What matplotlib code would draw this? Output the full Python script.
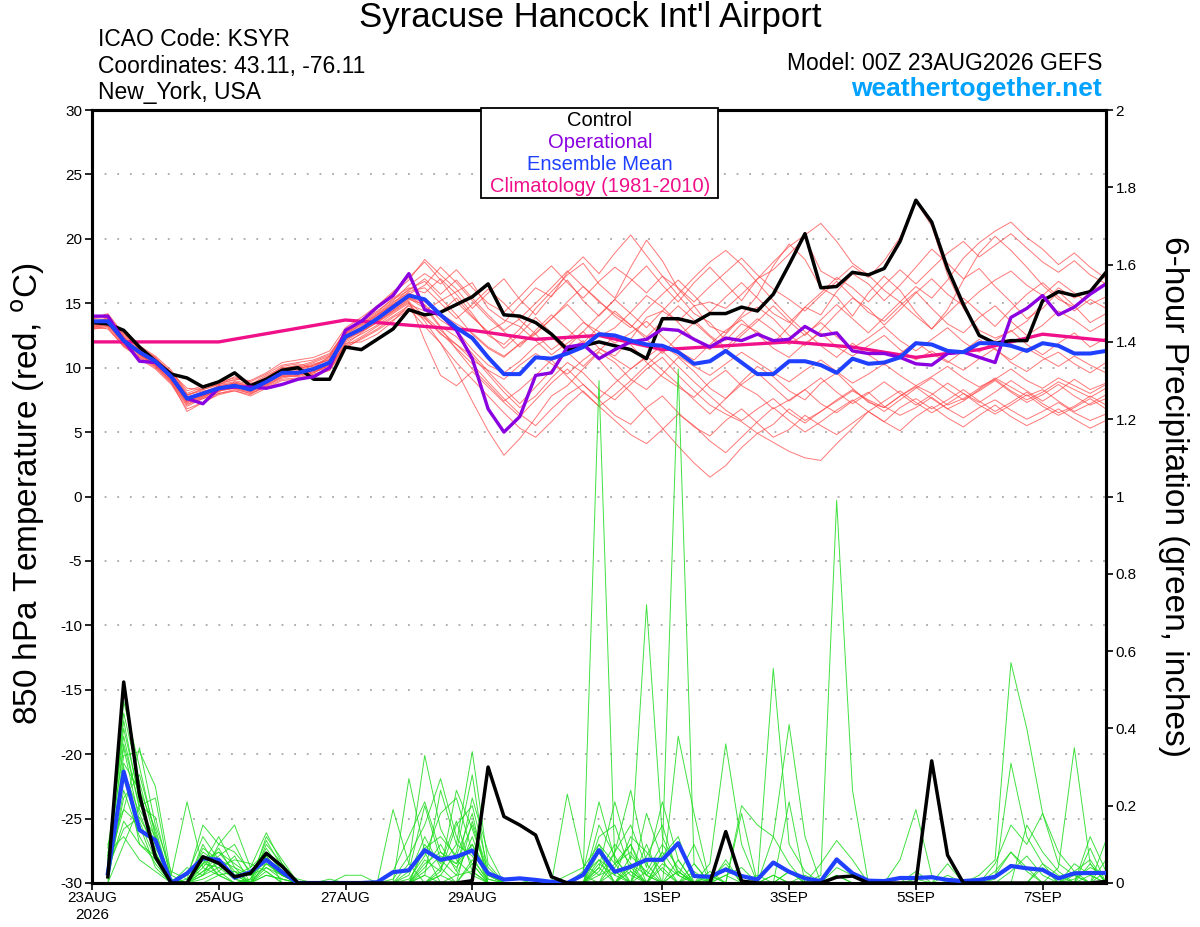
import numpy as np
import matplotlib
matplotlib.use("Agg")
import matplotlib.pyplot as plt
from matplotlib.patches import Rectangle
from matplotlib.ticker import FuncFormatter

plt.rcParams['font.family'] = ['Liberation Sans', 'DejaVu Sans']
plt.rcParams['axes.unicode_minus'] = False

# 6-hourly steps, 00Z 23AUG2026 -> 00Z 08SEP2026
steps = np.arange(65)
days = steps / 4.0

tick_days = [0, 2, 4, 6, 9, 11, 13, 15]
tick_labels = ['23AUG\n2026', '25AUG', '27AUG', '29AUG', '1SEP', '3SEP', '5SEP', '7SEP']

control_temp = [13.5, 13.4, 12.9, 11.6, 10.5, 9.5, 9.2, 8.5, 8.9, 9.6,
                8.6, 9.1, 9.8, 10.0, 9.1, 9.1, 11.6, 11.4, 12.2, 13.0,
                14.5, 14.1, 14.3, 14.9, 15.5, 16.5, 14.1, 14.0, 13.5, 12.6,
                11.4, 11.7, 12.0, 11.7, 11.4, 10.7, 13.8, 13.8, 13.5, 14.2,
                14.2, 14.7, 14.4, 15.7, 18.0, 20.4, 16.2, 16.3, 17.4, 17.2,
                17.7, 19.8, 23.0, 21.3, 17.7, 14.9, 12.5, 11.9, 12.1, 12.1,
                15.2, 15.9, 15.6, 15.9, 17.4]

oper_temp = [14.0, 14.0, 12.1, 10.5, 10.4, 9.3, 7.6, 7.2, 8.4, 8.5,
             8.5, 8.4, 8.7, 9.1, 9.3, 10.0, 12.9, 13.6, 14.7, 15.6,
             17.3, 14.5, 14.1, 12.9, 10.7, 6.8, 5.0, 6.2, 9.4, 9.6,
             11.6, 11.8, 10.7, 11.4, 12.0, 12.2, 13.0, 12.9, 12.2, 11.6,
             12.3, 12.1, 12.6, 12.1, 12.2, 13.2, 12.5, 12.7, 11.3, 11.1,
             11.1, 10.8, 10.3, 10.2, 11.1, 11.2, 10.8, 10.4, 13.9, 14.6,
             15.6, 14.1, 14.7, 15.7, 16.5]

mean_temp = [13.6, 13.6, 12.1, 11.2, 10.5, 9.3, 7.6, 8.0, 8.4, 8.6,
             8.3, 8.9, 9.6, 9.6, 9.9, 10.4, 12.4, 13.0, 13.8, 14.7,
             15.6, 15.3, 14.1, 13.1, 12.3, 10.8, 9.5, 9.5, 10.8, 10.7,
             11.1, 11.6, 12.6, 12.5, 12.1, 11.8, 11.7, 11.2, 10.3, 10.5,
             11.3, 10.4, 9.5, 9.5, 10.5, 10.5, 10.2, 9.6, 10.7, 10.3,
             10.4, 10.8, 11.9, 11.8, 11.3, 11.2, 11.9, 11.9, 11.7, 11.3,
             11.9, 11.7, 11.1, 11.1, 11.3]

clim_days = np.arange(17)
clim_temp = [12.0, 12.0, 12.0, 12.85, 13.7, 13.3, 12.9, 12.2, 12.5,
             11.4, 11.7, 12.0, 11.6, 10.8, 11.4, 12.6, 12.1]

member_temp = [
    [13.4, 13.9, 12.4, 11.0, 10.1, 9.0, 7.2, 7.6, 8.1, 8.9, 8.5, 9.2, 10.1, 10.3, 10.0, 10.9, 12.8, 13.5, 14.3, 15.4, 16.2,
     15.8, 16.9, 15.7, 14.2, 12.5, 11.8, 13.0, 14.6, 15.9, 17.2, 18.1, 16.5, 15.4, 17.8, 19.9, 18.3, 16.1, 14.8, 13.2, 12.7,
     14.1, 15.6, 17.9, 19.6, 18.4, 16.2, 15.5, 14.0, 15.8, 17.1, 16.0, 14.3, 13.0, 14.5, 16.8, 18.9, 20.2, 19.1, 17.8, 16.4,
     15.3, 14.7, 15.9, 16.6],
    [13.3, 13.2, 12.7, 11.4, 10.6, 9.6, 8.4, 8.3, 8.7, 9.3, 8.8, 9.0, 9.9, 10.2, 9.4, 9.8, 11.9, 12.0, 12.6, 13.6, 14.9,
     14.4, 15.2, 15.9, 16.6, 14.6, 13.7, 13.2, 12.1, 11.0, 11.9, 12.8, 11.5, 10.9, 12.2, 13.9, 14.4, 13.6, 14.8, 15.1, 14.6,
     15.7, 16.9, 17.6, 18.8, 20.1, 17.5, 16.8, 17.9, 17.0, 18.3, 20.1, 22.9, 21.0, 17.2, 14.6, 12.9, 12.3, 12.8, 13.6, 15.0,
     16.2, 15.4, 16.0, 17.2],
    [13.8, 14.2, 12.6, 11.7, 10.9, 9.8, 8.0, 8.5, 8.7, 9.1, 9.0, 9.6, 10.4, 10.6, 10.8, 11.3, 13.1, 13.9, 14.8, 15.9, 17.0,
     18.2, 16.8, 15.1, 13.9, 12.8, 13.5, 14.9, 16.2, 15.5, 17.4, 18.6, 17.3, 18.9, 20.3, 18.7, 17.1, 15.6, 14.2, 13.5, 12.1,
     13.4, 12.8, 11.9, 13.2, 14.7, 14.1, 15.9, 17.3, 16.5, 15.2, 16.4, 17.8, 19.2, 18.1, 16.9, 17.7, 16.3, 15.1, 13.8, 14.6,
     15.9, 14.8, 13.5, 14.2],
    [13.2, 13.4, 11.8, 10.7, 9.9, 8.7, 6.8, 7.3, 8.0, 8.2, 7.9, 8.6, 9.2, 9.4, 9.7, 10.0, 12.0, 12.6, 13.3, 14.2, 15.0,
     13.6, 11.9, 9.8, 7.4, 5.1, 3.2, 4.5, 6.1, 7.8, 8.6, 9.9, 11.2, 10.4, 9.1, 8.3, 9.5, 10.8, 9.7, 8.4, 7.6,
     8.9, 10.1, 9.3, 8.2, 7.5, 8.8, 9.6, 8.4, 7.3, 6.9, 7.8, 8.5, 7.6, 6.8, 7.4, 8.3, 9.1, 8.2, 7.5, 8.1,
     8.9, 8.3, 7.7, 8.4],
    [13.5, 13.7, 12.3, 11.5, 10.8, 9.5, 7.7, 7.9, 8.2, 8.4, 8.1, 8.8, 9.4, 9.3, 9.6, 10.3, 12.5, 13.2, 14.1, 14.9, 15.5,
     14.8, 13.2, 12.4, 11.1, 9.7, 8.4, 7.2, 8.5, 9.8, 11.3, 12.1, 10.6, 9.2, 8.1, 6.7, 5.3, 3.9, 2.6, 1.5, 2.4,
     3.8, 4.9, 5.6, 6.8, 5.9, 6.6, 7.4, 8.2, 7.5, 6.9, 7.8, 8.6, 8.0, 7.1, 7.6, 8.4, 9.2, 8.5, 7.8, 8.3,
     7.4, 6.6, 7.2, 7.9],
    [13.7, 13.5, 12.0, 11.3, 10.4, 9.1, 7.4, 7.9, 8.6, 8.8, 8.4, 9.1, 9.8, 9.7, 10.2, 10.8, 12.6, 13.3, 14.0, 15.0, 16.1,
     16.7, 15.4, 14.1, 12.6, 11.5, 10.8, 11.9, 12.7, 13.8, 14.9, 13.6, 12.4, 13.1, 14.3, 15.6, 14.7, 13.5, 12.2, 11.4, 12.6,
     13.9, 14.7, 13.8, 12.5, 11.7, 12.9, 14.2, 15.4, 14.6, 13.3, 14.5, 15.8, 16.9, 15.7, 14.8, 15.9, 16.8, 17.5, 16.4, 15.6,
     16.7, 15.8, 14.9, 15.5],
    [13.1, 13.3, 11.9, 11.0, 10.3, 9.2, 7.5, 8.1, 8.5, 8.7, 8.2, 8.7, 9.5, 9.8, 9.8, 10.1, 11.8, 12.7, 13.6, 14.4, 15.3,
     14.9, 13.7, 12.9, 11.4, 10.2, 9.6, 10.5, 11.7, 12.4, 11.2, 10.1, 11.3, 12.5, 11.8, 10.4, 9.3, 8.5, 7.7, 8.9, 9.8,
     8.6, 7.9, 6.8, 7.5, 8.3, 7.2, 6.5, 7.4, 8.1, 7.0, 6.3, 6.9, 7.7, 6.8, 6.1, 6.9, 7.5, 6.7, 6.0, 6.6,
     7.3, 6.5, 5.9, 6.4],
    [13.9, 14.1, 12.5, 11.6, 10.7, 9.4, 7.8, 8.4, 8.9, 9.0, 8.7, 9.4, 10.0, 10.1, 10.5, 11.0, 12.9, 13.7, 14.6, 15.8, 16.8,
     18.4, 17.2, 16.1, 14.6, 15.8, 16.9, 15.3, 14.1, 15.6, 16.8, 15.2, 14.0, 15.3, 16.7, 17.9, 16.4, 15.1, 16.6, 17.8, 16.5,
     15.2, 16.9, 18.2, 19.4, 20.3, 21.2, 19.8, 18.1, 17.2, 16.0, 15.1, 16.3, 15.4, 16.8, 18.5, 19.7, 20.6, 21.3, 20.1, 19.2,
     18.0, 18.9, 17.8, 16.9],
    [13.0, 13.1, 11.6, 10.8, 10.0, 8.8, 7.0, 7.6, 8.0, 8.3, 8.0, 8.5, 9.1, 9.2, 9.5, 9.9, 11.7, 12.4, 13.2, 14.0, 14.8,
     13.9, 12.6, 11.8, 10.9, 9.5, 8.1, 6.9, 7.8, 9.2, 10.4, 9.6, 8.3, 7.5, 8.7, 9.9, 10.8, 9.4, 8.2, 7.1, 6.4,
     5.8, 4.9, 4.2, 3.5, 3.0, 2.8, 4.1, 5.3, 6.6, 5.8, 6.9, 7.6, 6.8, 7.5, 8.3, 7.4, 6.6, 7.3, 8.1, 7.2,
     6.5, 7.0, 7.8, 7.1],
    [13.6, 13.8, 12.2, 11.3, 10.6, 9.6, 7.9, 8.2, 8.3, 8.5, 8.2, 9.0, 9.7, 9.5, 9.8, 10.5, 12.3, 12.9, 13.7, 14.6, 15.4,
     15.1, 14.2, 13.4, 12.7, 11.6, 10.9, 11.8, 12.6, 11.4, 12.3, 13.5, 12.8, 11.9, 12.7, 13.6, 12.4, 11.3, 10.6, 11.8, 12.9,
     13.7, 12.6, 11.5, 10.8, 11.9, 12.7, 11.6, 10.9, 11.7, 12.5, 11.4, 10.6, 11.3, 10.5, 9.8, 10.7, 11.5, 10.4, 9.7, 10.6,
     11.2, 10.3, 9.6, 10.4],
    [13.4, 13.5, 12.2, 11.4, 10.7, 9.7, 8.2, 8.6, 8.9, 9.2, 8.9, 9.5, 10.2, 10.4, 10.6, 11.1, 12.7, 13.4, 14.2, 15.2, 16.4,
     17.3, 16.5, 17.6, 16.2, 15.0, 14.3, 15.5, 16.8, 17.9, 16.6, 15.4, 16.7, 17.8, 16.9, 15.8, 17.1, 16.2, 15.1, 16.3, 17.4,
     18.5, 17.2, 16.1, 15.3, 14.4, 15.6, 16.7, 15.5, 14.3, 13.6, 14.8, 15.9, 14.6, 13.4, 12.7, 13.9, 14.8, 13.6, 12.5, 13.3,
     14.4, 13.7, 12.8, 13.5],
    [13.2, 13.0, 11.7, 10.9, 10.2, 9.0, 7.3, 7.7, 8.3, 8.6, 8.1, 8.7, 9.3, 9.5, 9.6, 10.2, 11.6, 12.2, 12.9, 13.7, 14.5,
     13.8, 12.7, 11.5, 10.3, 8.9, 7.6, 6.4, 5.5, 6.8, 7.9, 8.7, 7.5, 6.3, 5.6, 6.9, 7.8, 6.5, 5.4, 4.7, 5.9,
     6.8, 5.7, 4.6, 5.2, 6.3, 5.5, 4.8, 5.7, 6.6, 5.8, 5.1, 6.2, 7.0, 6.1, 5.4, 6.3, 7.1, 6.2, 5.5, 6.1,
     6.8, 6.0, 5.3, 5.9],
    [13.7, 13.6, 12.0, 11.1, 10.3, 9.2, 7.5, 7.8, 8.3, 8.6, 8.4, 9.0, 9.8, 9.9, 10.3, 10.6, 12.5, 13.1, 13.9, 14.9, 15.9,
     16.2, 15.0, 13.8, 14.9, 16.1, 15.0, 13.7, 12.6, 13.8, 15.1, 16.3, 15.2, 14.0, 13.1, 14.5, 15.7, 16.8, 15.6, 14.3, 15.5,
     16.6, 15.4, 14.2, 13.5, 14.7, 15.8, 17.0, 16.2, 15.1, 16.4, 17.6, 16.5, 17.7, 18.9, 19.8, 18.6, 19.5, 20.4, 19.3, 18.2,
     17.4, 18.3, 17.2, 16.5],
    [13.5, 13.4, 11.9, 11.0, 10.2, 8.9, 7.1, 7.7, 8.2, 8.4, 8.0, 8.6, 9.3, 9.4, 9.7, 10.2, 12.1, 12.8, 13.5, 14.3, 15.1,
     14.0, 12.9, 11.8, 10.6, 9.8, 9.1, 10.2, 11.1, 10.3, 9.5, 10.6, 11.5, 10.7, 9.9, 10.8, 11.7, 10.9, 10.1, 9.4, 10.3,
     11.2, 10.4, 9.6, 8.9, 9.8, 10.6, 9.7, 8.8, 9.5, 10.3, 9.4, 8.6, 9.3, 10.1, 9.2, 8.5, 9.1, 9.9, 9.0, 8.4,
     9.2, 8.6, 8.0, 8.7],
    [13.3, 13.5, 12.0, 11.2, 10.4, 9.2, 7.6, 8.0, 8.4, 8.7, 8.3, 8.8, 9.4, 9.6, 9.9, 10.4, 12.2, 12.9, 13.6, 14.5, 15.4,
     14.6, 13.1, 11.4, 9.9, 8.7, 7.4, 8.3, 9.4, 10.6, 9.3, 8.1, 7.0, 7.9, 9.0, 10.2, 11.3, 10.1, 8.9, 7.8, 6.7,
     5.9, 6.8, 7.6, 6.5, 5.7, 6.6, 7.5, 8.3, 7.4, 6.6, 7.5, 8.4, 9.2, 8.3, 7.5, 8.2, 9.0, 8.1, 7.3, 7.9,
     8.7, 7.8, 7.1, 7.6],
    [13.8, 13.9, 12.4, 11.6, 10.8, 9.6, 7.9, 8.3, 8.7, 8.9, 8.6, 9.3, 9.9, 10.0, 10.4, 10.9, 12.7, 13.6, 14.4, 15.3, 16.0,
     16.9, 15.7, 16.8, 15.4, 14.1, 12.9, 13.8, 15.0, 16.2, 17.5, 16.3, 15.1, 14.2, 13.3, 12.4, 13.6, 14.8, 13.7, 12.5, 11.6,
     12.7, 13.8, 12.9, 11.8, 12.6, 13.5, 12.4, 11.5, 12.3, 13.2, 12.1, 11.3, 12.2, 13.1, 12.0, 11.2, 12.1, 12.9, 11.8, 11.0,
     11.9, 12.7, 11.6, 12.3],
    [13.0, 13.2, 11.7, 10.8, 10.1, 8.9, 6.6, 7.3, 7.9, 8.2, 7.8, 8.4, 9.0, 9.1, 9.4, 9.8, 11.5, 12.3, 13.0, 13.9, 14.6,
     13.2, 11.9, 10.4, 9.1, 7.8, 6.5, 5.3, 4.6, 5.8, 7.1, 8.2, 7.0, 5.9, 4.8, 4.1, 5.2, 6.4, 5.5, 4.3, 3.4,
     4.6, 5.8, 6.9, 5.9, 5.0, 5.8, 6.7, 7.5, 6.6, 7.4, 8.2, 7.3, 6.5, 7.2, 8.0, 7.1, 6.4, 7.1, 7.9, 7.0,
     6.3, 6.9, 7.6, 6.8],
    [13.6, 13.3, 12.0, 11.4, 10.6, 9.4, 7.7, 8.1, 8.6, 8.8, 8.5, 9.2, 9.9, 10.0, 10.1, 10.7, 12.6, 13.4, 14.1, 15.1, 15.8,
     15.2, 14.3, 15.4, 14.0, 12.7, 11.5, 12.6, 13.9, 12.7, 11.6, 12.8, 14.1, 15.3, 14.2, 13.1, 14.4, 15.7, 17.0, 18.2, 19.1,
     18.0, 16.6, 15.2, 13.9, 12.8, 11.7, 10.8, 11.9, 11.0, 10.2, 11.1, 12.0, 11.1, 10.4, 11.3, 12.2, 11.4, 10.6, 11.5, 10.8,
     10.1, 10.9, 10.2, 9.6],
    [13.4, 13.8, 12.3, 11.3, 10.5, 9.3, 7.4, 7.8, 8.5, 8.7, 8.4, 9.1, 9.7, 9.9, 10.2, 10.6, 12.4, 13.1, 13.8, 14.8, 15.7,
     16.4, 17.8, 16.6, 15.2, 13.9, 12.8, 11.6, 12.9, 14.1, 13.0, 11.9, 13.2, 14.4, 13.3, 12.2, 11.1, 12.4, 13.5, 12.4, 11.3,
     12.5, 13.6, 14.8, 13.6, 12.5, 13.7, 14.9, 13.8, 12.7, 13.9, 15.1, 14.0, 13.0, 14.2, 15.4, 14.3, 13.2, 14.5, 15.7, 16.6,
     15.5, 14.4, 15.3, 14.6],
    [13.1, 13.4, 11.8, 11.1, 10.3, 9.1, 7.3, 7.8, 8.2, 8.5, 8.2, 8.8, 9.5, 9.6, 9.8, 10.3, 12.2, 12.8, 13.5, 14.4, 15.2,
     12.1, 9.4, 8.6, 9.7, 8.5, 7.3, 6.2, 7.5, 8.8, 9.9, 8.7, 7.6, 8.8, 9.9, 10.9, 9.8, 8.7, 7.5, 6.4, 7.6,
     8.7, 9.6, 8.5, 7.4, 8.3, 9.2, 8.1, 7.2, 8.0, 8.9, 8.0, 7.1, 7.9, 8.8, 8.0, 7.3, 8.1, 9.0, 8.2, 7.4,
     8.2, 9.1, 8.3, 8.8],
]

# precipitation (inches per 6 h), first value is at 06Z 23AUG
control_precip = [0.016, 0.52, 0.228, 0.068, 0.0, 0.0, 0.068, 0.051, 0.016, 0.025,
                  0.077, 0.043, 0.0, 0.0, 0.0, 0.0, 0.0, 0.0, 0.0, 0.0,
                  0.0, 0.0, 0.0, 0.006, 0.30, 0.172, 0.150, 0.124, 0.016, 0.0,
                  0.0, 0.0, 0.0, 0.0, 0.0, 0.0, 0.0, 0.0, 0.0, 0.133,
                  0.005, 0.0, 0.0, 0.0, 0.0, 0.0, 0.015, 0.018, 0.0, 0.0,
                  0.0, 0.0, 0.316, 0.072, 0.0, 0.0, 0.0, 0.0, 0.0, 0.0,
                  0.0, 0.0, 0.0, 0.004]

mean_precip = [0.025, 0.288, 0.137, 0.111, 0.0, 0.025, 0.064, 0.060, 0.014, 0.028,
               0.060, 0.028, 0.0, 0.0, 0.0, 0.0, 0.0, 0.002, 0.028, 0.033,
               0.085, 0.060, 0.068, 0.084, 0.025, 0.009, 0.012, 0.008, 0.003, 0.0,
               0.021, 0.085, 0.029, 0.042, 0.060, 0.060, 0.103, 0.018, 0.016, 0.035,
               0.018, 0.009, 0.053, 0.029, 0.012, 0.005, 0.061, 0.025, 0.006, 0.005,
               0.013, 0.013, 0.015, 0.008, 0.005, 0.008, 0.016, 0.044, 0.038, 0.034,
               0.012, 0.025, 0.026, 0.026]

member_precip = [
    [0.05, 0.47, 0.30, 0.12, 0.01, 0.0, 0.06, 0.08, 0.03, 0.02, 0.06, 0.02, 0.0, 0.0, 0.0, 0.0, 0.0, 0.0, 0.03, 0.12,
     0.21, 0.08, 0.05, 0.10, 0.03, 0.0, 0.0, 0.0, 0.0, 0.0, 0.02, 1.30, 0.05, 0.08, 0.02, 0.0, 0.03, 0.0, 0.01, 0.05,
     0.0, 0.0, 0.02, 0.0, 0.0, 0.0, 0.02, 0.0, 0.0, 0.0, 0.0, 0.01, 0.0, 0.0, 0.0, 0.0, 0.02, 0.08, 0.03, 0.0,
     0.0, 0.01, 0.04, 0.02],
    [0.02, 0.33, 0.34, 0.25, 0.02, 0.21, 0.04, 0.02, 0.0, 0.01, 0.11, 0.04, 0.0, 0.0, 0.01, 0.0, 0.0, 0.0, 0.0, 0.05,
     0.33, 0.14, 0.06, 0.02, 0.0, 0.0, 0.0, 0.01, 0.0, 0.0, 0.0, 0.04, 0.21, 0.06, 0.72, 0.12, 0.03, 0.0, 0.02, 0.0,
     0.0, 0.0, 0.0, 0.03, 0.0, 0.0, 0.0, 0.0, 0.0, 0.0, 0.0, 0.03, 0.0, 0.0, 0.0, 0.0, 0.01, 0.31, 0.12, 0.05,
     0.02, 0.0, 0.0, 0.06],
    [0.10, 0.19, 0.35, 0.15, 0.03, 0.01, 0.15, 0.10, 0.15, 0.04, 0.08, 0.03, 0.0, 0.0, 0.0, 0.0, 0.0, 0.0, 0.0, 0.0,
     0.02, 0.24, 0.10, 0.34, 0.05, 0.0, 0.0, 0.0, 0.0, 0.0, 0.0, 0.03, 0.10, 0.05, 0.02, 0.08, 1.33, 0.05, 0.0, 0.0,
     0.0, 0.0, 0.0, 0.0, 0.02, 0.0, 0.0, 0.0, 0.0, 0.0, 0.0, 0.0, 0.0, 0.05, 0.0, 0.0, 0.0, 0.0, 0.0, 0.0,
     0.0, 0.0, 0.12, 0.03],
    [0.0, 0.10, 0.20, 0.22, 0.0, 0.02, 0.12, 0.06, 0.02, 0.0, 0.10, 0.05, 0.0, 0.0, 0.0, 0.02, 0.02, 0.0, 0.19, 0.05,
     0.0, 0.02, 0.08, 0.28, 0.01, 0.0, 0.0, 0.0, 0.0, 0.23, 0.05, 0.02, 0.08, 0.24, 0.05, 0.0, 0.38, 0.18, 0.0, 0.02,
     0.0, 0.0, 0.0, 0.0, 0.0, 0.0, 0.0, 0.0, 0.0, 0.0, 0.0, 0.0, 0.0, 0.0, 0.0, 0.02, 0.06, 0.57, 0.40, 0.18,
     0.05, 0.02, 0.0, 0.0],
    [0.03, 0.27, 0.14, 0.10, 0.01, 0.0, 0.08, 0.05, 0.01, 0.03, 0.05, 0.02, 0.0, 0.0, 0.0, 0.0, 0.0, 0.0, 0.0, 0.01,
     0.07, 0.18, 0.22, 0.08, 0.02, 0.0, 0.0, 0.0, 0.0, 0.0, 0.0, 0.0, 0.05, 0.10, 0.02, 0.0, 0.03, 0.0, 0.05, 0.36,
     0.10, 0.0, 0.0, 0.0, 0.0, 0.0, 0.02, 0.0, 0.0, 0.0, 0.0, 0.0, 0.0, 0.0, 0.0, 0.0, 0.0, 0.03, 0.07, 0.02,
     0.0, 0.0, 0.0, 0.03],
    [0.07, 0.40, 0.22, 0.08, 0.0, 0.0, 0.05, 0.12, 0.04, 0.02, 0.04, 0.01, 0.0, 0.0, 0.0, 0.0, 0.0, 0.0, 0.01, 0.07,
     0.15, 0.27, 0.12, 0.05, 0.0, 0.0, 0.0, 0.0, 0.0, 0.0, 0.03, 0.21, 0.06, 0.02, 0.0, 0.04, 0.0, 0.0, 0.03, 0.0,
     0.20, 0.15, 0.12, 0.41, 0.12, 0.0, 0.0, 0.0, 0.0, 0.0, 0.0, 0.0, 0.0, 0.0, 0.0, 0.0, 0.0, 0.0, 0.0, 0.0,
     0.0, 0.05, 0.02, 0.0],
    [0.01, 0.22, 0.28, 0.13, 0.0, 0.0, 0.03, 0.07, 0.10, 0.02, 0.09, 0.03, 0.0, 0.0, 0.0, 0.0, 0.0, 0.0, 0.0, 0.0,
     0.10, 0.05, 0.16, 0.03, 0.0, 0.0, 0.0, 0.0, 0.0, 0.02, 0.04, 0.10, 0.02, 0.12, 0.08, 0.03, 0.0, 0.02, 0.0, 0.06,
     0.0, 0.0, 0.555, 0.10, 0.03, 0.0, 0.0, 0.0, 0.0, 0.0, 0.0, 0.0, 0.0, 0.0, 0.0, 0.0, 0.0, 0.0, 0.0, 0.0,
     0.04, 0.35, 0.05, 0.0],
    [0.04, 0.14, 0.17, 0.09, 0.02, 0.0, 0.10, 0.03, 0.0, 0.01, 0.07, 0.02, 0.0, 0.0, 0.0, 0.0, 0.0, 0.0, 0.0, 0.03,
     0.20, 0.06, 0.02, 0.12, 0.0, 0.0, 0.0, 0.0, 0.0, 0.0, 0.0, 0.06, 0.03, 0.0, 0.18, 0.06, 0.0, 0.0, 0.0, 0.02,
     0.04, 0.0, 0.0, 0.21, 0.0, 0.02, 0.99, 0.24, 0.0, 0.0, 0.0, 0.0, 0.0, 0.0, 0.0, 0.0, 0.0, 0.0, 0.0, 0.0,
     0.0, 0.0, 0.0, 0.0],
    [0.02, 0.30, 0.10, 0.06, 0.0, 0.0, 0.02, 0.04, 0.06, 0.05, 0.03, 0.0, 0.0, 0.0, 0.0, 0.0, 0.0, 0.0, 0.0, 0.0,
     0.04, 0.10, 0.03, 0.22, 0.08, 0.0, 0.0, 0.0, 0.0, 0.0, 0.0, 0.08, 0.0, 0.05, 0.0, 0.08, 0.02, 0.10, 0.0, 0.0,
     0.18, 0.0, 0.0, 0.0, 0.0, 0.05, 0.11, 0.06, 0.0, 0.0, 0.06, 0.19, 0.02, 0.0, 0.0, 0.0, 0.0, 0.0, 0.0, 0.0,
     0.0, 0.03, 0.0, 0.11],
    [0.06, 0.36, 0.20, 0.17, 0.01, 0.0, 0.07, 0.02, 0.0, 0.0, 0.12, 0.06, 0.0, 0.0, 0.0, 0.0, 0.0, 0.0, 0.0, 0.0,
     0.06, 0.03, 0.24, 0.14, 0.02, 0.0, 0.0, 0.0, 0.0, 0.0, 0.0, 0.0, 0.0, 0.03, 0.0, 0.05, 0.02, 0.0, 0.0, 0.0,
     0.0, 0.0, 0.0, 0.0, 0.0, 0.0, 0.0, 0.0, 0.0, 0.0, 0.0, 0.0, 0.0, 0.0, 0.0, 0.0, 0.05, 0.15, 0.10, 0.18,
     0.08, 0.03, 0.06, 0.0],
    [0.0, 0.24, 0.12, 0.05, 0.0, 0.0, 0.04, 0.09, 0.02, 0.0, 0.05, 0.03, 0.01, 0.0, 0.0, 0.0, 0.0, 0.0, 0.0, 0.02,
     0.12, 0.04, 0.0, 0.16, 0.03, 0.0, 0.0, 0.0, 0.0, 0.0, 0.02, 0.0, 0.08, 0.15, 0.04, 0.21, 0.06, 0.0, 0.0, 0.04,
     0.02, 0.0, 0.0, 0.0, 0.0, 0.0, 0.0, 0.0, 0.0, 0.0, 0.0, 0.0, 0.0, 0.0, 0.0, 0.0, 0.0, 0.0, 0.0, 0.0,
     0.0, 0.0, 0.0, 0.0],
    [0.08, 0.12, 0.06, 0.03, 0.0, 0.0, 0.01, 0.03, 0.07, 0.0, 0.02, 0.01, 0.0, 0.0, 0.0, 0.0, 0.0, 0.0, 0.0, 0.27,
     0.08, 0.0, 0.0, 0.05, 0.0, 0.0, 0.0, 0.0, 0.0, 0.0, 0.0, 0.12, 0.15, 0.03, 0.0, 0.0, 0.0, 0.0, 0.0, 0.0,
     0.0, 0.0, 0.12, 0.05, 0.0, 0.0, 0.0, 0.0, 0.0, 0.0, 0.0, 0.0, 0.0, 0.0, 0.0, 0.0, 0.0, 0.0, 0.0, 0.0,
     0.0, 0.0, 0.0, 0.0],
    [0.03, 0.16, 0.10, 0.07, 0.01, 0.0, 0.0, 0.02, 0.03, 0.0, 0.04, 0.02, 0.0, 0.0, 0.0, 0.0, 0.0, 0.0, 0.0, 0.0,
     0.02, 0.0, 0.02, 0.03, 0.0, 0.0, 0.0, 0.0, 0.0, 0.0, 0.0, 0.05, 0.02, 0.0, 0.03, 0.0, 0.0, 0.05, 0.0, 0.0,
     0.0, 0.0, 0.0, 0.0, 0.0, 0.0, 0.0, 0.0, 0.0, 0.0, 0.0, 0.0, 0.0, 0.0, 0.0, 0.0, 0.0, 0.0, 0.0, 0.05,
     0.0, 0.0, 0.0, 0.0],
    [0.05, 0.19, 0.15, 0.04, 0.0, 0.0, 0.05, 0.04, 0.01, 0.0, 0.03, 0.0, 0.0, 0.0, 0.0, 0.0, 0.0, 0.0, 0.0, 0.0,
     0.0, 0.0, 0.0, 0.0, 0.0, 0.0, 0.0, 0.0, 0.0, 0.0, 0.0, 0.0, 0.0, 0.0, 0.0, 0.0, 0.0, 0.0, 0.0, 0.0,
     0.0, 0.0, 0.0, 0.0, 0.0, 0.0, 0.0, 0.0, 0.0, 0.0, 0.0, 0.0, 0.0, 0.0, 0.0, 0.0, 0.0, 0.0, 0.0, 0.0,
     0.0, 0.0, 0.0, 0.0],
    [0.04, 0.44, 0.26, 0.11, 0.0, 0.0, 0.09, 0.06, 0.02, 0.04, 0.13, 0.05, 0.0, 0.0, 0.0, 0.0, 0.0, 0.0, 0.0, 0.0,
     0.0, 0.03, 0.15, 0.20, 0.04, 0.0, 0.0, 0.0, 0.0, 0.0, 0.0, 0.04, 0.0, 0.07, 0.03, 0.10, 0.04, 0.0, 0.02, 0.0,
     0.0, 0.0, 0.02, 0.0, 0.0, 0.0, 0.04, 0.02, 0.0, 0.0, 0.0, 0.0, 0.0, 0.0, 0.0, 0.0, 0.0, 0.0, 0.0, 0.0,
     0.0, 0.02, 0.0, 0.0],
    [0.09, 0.38, 0.19, 0.12, 0.0, 0.04, 0.02, 0.10, 0.08, 0.03, 0.06, 0.02, 0.0, 0.0, 0.0, 0.0, 0.0, 0.0, 0.0, 0.0,
     0.05, 0.08, 0.04, 0.10, 0.0, 0.0, 0.0, 0.0, 0.0, 0.0, 0.0, 0.10, 0.05, 0.0, 0.07, 0.15, 0.02, 0.0, 0.0, 0.0,
     0.0, 0.0, 0.0, 0.0, 0.0, 0.0, 0.0, 0.0, 0.0, 0.0, 0.0, 0.0, 0.0, 0.0, 0.0, 0.0, 0.0, 0.0, 0.15, 0.08,
     0.03, 0.0, 0.02, 0.0],
    [0.02, 0.31, 0.24, 0.14, 0.0, 0.0, 0.06, 0.02, 0.03, 0.0, 0.07, 0.0, 0.0, 0.0, 0.0, 0.0, 0.0, 0.0, 0.0, 0.0,
     0.09, 0.12, 0.07, 0.18, 0.0, 0.0, 0.0, 0.0, 0.0, 0.0, 0.0, 0.15, 0.07, 0.0, 0.10, 0.0, 0.06, 0.0, 0.0, 0.0,
     0.0, 0.02, 0.0, 0.0, 0.0, 0.0, 0.0, 0.0, 0.0, 0.0, 0.0, 0.0, 0.0, 0.02, 0.0, 0.0, 0.0, 0.0, 0.0, 0.0,
     0.0, 0.0, 0.09, 0.0],
    [0.06, 0.35, 0.16, 0.06, 0.0, 0.0, 0.03, 0.05, 0.01, 0.0, 0.02, 0.01, 0.0, 0.0, 0.0, 0.0, 0.0, 0.0, 0.0, 0.0,
     0.0, 0.04, 0.10, 0.07, 0.0, 0.0, 0.0, 0.0, 0.0, 0.0, 0.02, 0.06, 0.0, 0.04, 0.0, 0.0, 0.0, 0.03, 0.0, 0.0,
     0.0, 0.0, 0.0, 0.03, 0.0, 0.0, 0.0, 0.0, 0.0, 0.0, 0.0, 0.0, 0.0, 0.0, 0.0, 0.0, 0.0, 0.0, 0.0, 0.04,
     0.0, 0.0, 0.0, 0.0],
    [0.07, 0.42, 0.21, 0.10, 0.0, 0.01, 0.05, 0.08, 0.05, 0.02, 0.08, 0.04, 0.0, 0.0, 0.0, 0.0, 0.0, 0.0, 0.0, 0.0,
     0.03, 0.07, 0.05, 0.15, 0.02, 0.0, 0.0, 0.0, 0.0, 0.0, 0.0, 0.02, 0.04, 0.10, 0.0, 0.07, 0.12, 0.0, 0.0, 0.0,
     0.0, 0.0, 0.0, 0.0, 0.0, 0.0, 0.0, 0.0, 0.0, 0.0, 0.0, 0.0, 0.0, 0.0, 0.0, 0.0, 0.03, 0.08, 0.04, 0.0,
     0.0, 0.0, 0.05, 0.0],
    [0.03, 0.29, 0.18, 0.08, 0.0, 0.0, 0.02, 0.06, 0.04, 0.0, 0.05, 0.02, 0.0, 0.0, 0.0, 0.0, 0.0, 0.0, 0.0, 0.0,
     0.0, 0.02, 0.0, 0.06, 0.01, 0.0, 0.0, 0.0, 0.0, 0.0, 0.0, 0.0, 0.03, 0.0, 0.0, 0.0, 0.0, 0.0, 0.0, 0.0,
     0.0, 0.0, 0.0, 0.0, 0.0, 0.0, 0.0, 0.0, 0.0, 0.0, 0.0, 0.0, 0.0, 0.0, 0.0, 0.0, 0.0, 0.0, 0.0, 0.0,
     0.0, 0.0, 0.0, 0.0],
]

RED = '#ff4a4a'
GREEN = '#1fdc1f'
PURPLE = '#8a00e0'
BLUE = '#2040ff'
PINK = '#f0108a'

W, H = 1200, 927
fig = plt.figure(figsize=(W / 100, H / 100), dpi=100)
ax = fig.add_axes([92 / W, 44 / H, 1014 / W, 773 / H])
ax2 = ax.twinx()

pdays = days[1:]
for m in member_precip:
    ax2.plot(pdays[:len(m)], m, color=GREEN, lw=0.7, alpha=0.85, zorder=1)
ax2.plot(pdays[:len(mean_precip)], mean_precip, color=BLUE, lw=3.0, zorder=3)
ax2.plot(pdays[:len(control_precip)], control_precip, color='black', lw=2.5, zorder=4)

for m in member_temp:
    ax.plot(days[:len(m)], m, color=RED, lw=0.7, alpha=0.75, zorder=2)
ax.plot(clim_days, clim_temp, color=PINK, lw=2.4, zorder=3)
ax.plot(days, control_temp, color='black', lw=2.5, zorder=4)
ax.plot(days, oper_temp, color=PURPLE, lw=2.4, zorder=5)
ax.plot(days, mean_temp, color=BLUE, lw=2.9, zorder=6)

ax.set_xlim(0, 16)
ax.set_ylim(-30, 30)
ax2.set_ylim(0, 2)

ax.set_yticks(np.arange(-30, 31, 5))
ax.set_xticks(tick_days)
ax.set_xticklabels(tick_labels)
for y in range(-25, 30, 5):
    ax.axhline(y, color='#a8a8a8', lw=1.3, ls=(0, (1, 6)), zorder=0)

ax2.set_yticks(np.arange(0, 2.01, 0.2))
ax2.yaxis.set_major_formatter(FuncFormatter(lambda v, p: '%g' % round(v, 1)))

for a in (ax, ax2):
    for s in a.spines.values():
        s.set_linewidth(2.2)
    a.tick_params(direction='out', length=5, width=1.2, labelsize=11, pad=2)
ax.tick_params(axis='x', pad=1)

fig.text(28 / W, 1 - 494 / H, '850 hPa Temperature (red, $^{\\rm o}$C)', fontsize=24,
         rotation=90, ha='center', va='center')
fig.text(1174 / W, 1 - 496 / H, '6-hour Precipitation (green, inches)', fontsize=24,
         rotation=270, ha='center', va='center')

fig.text(590 / W, 1 - 18 / H, "Syracuse Hancock Int'l Airport", fontsize=25,
         ha='center', va='center')
fig.text(98 / W, 1 - 40 / H, 'ICAO Code: KSYR', fontsize=16.5, va='center')
fig.text(98 / W, 1 - 66 / H, 'Coordinates: 43.11, -76.11', fontsize=16.5, va='center')
fig.text(98 / W, 1 - 92 / H, 'New_York, USA', fontsize=16.5, va='center')
fig.text(1102 / W, 1 - 63 / H, 'Model: 00Z 23AUG2026 GEFS', fontsize=16.5,
         ha='right', va='center')
fig.text(1102 / W, 1 - 89 / H, 'weathertogether.net', fontsize=19, fontweight='bold',
         color='#00a2ff', ha='right', va='center')

# legend box
fig.add_artist(Rectangle((481 / W, 1 - 198 / H), 237 / W, 90 / H,
                         transform=fig.transFigure, facecolor='white',
                         edgecolor='black', lw=1.3, zorder=10))
legend_items = [('Control', 'black'), ('Operational', PURPLE),
                ('Ensemble Mean', BLUE), ('Climatology (1981-2010)', PINK)]
for k, (txt, col) in enumerate(legend_items):
    fig.text(600 / W, 1 - (120 + 22 * k) / H, txt, color=col, fontsize=14.5,
             ha='center', va='center', zorder=11)

fig.savefig('out.png', dpi=100)
